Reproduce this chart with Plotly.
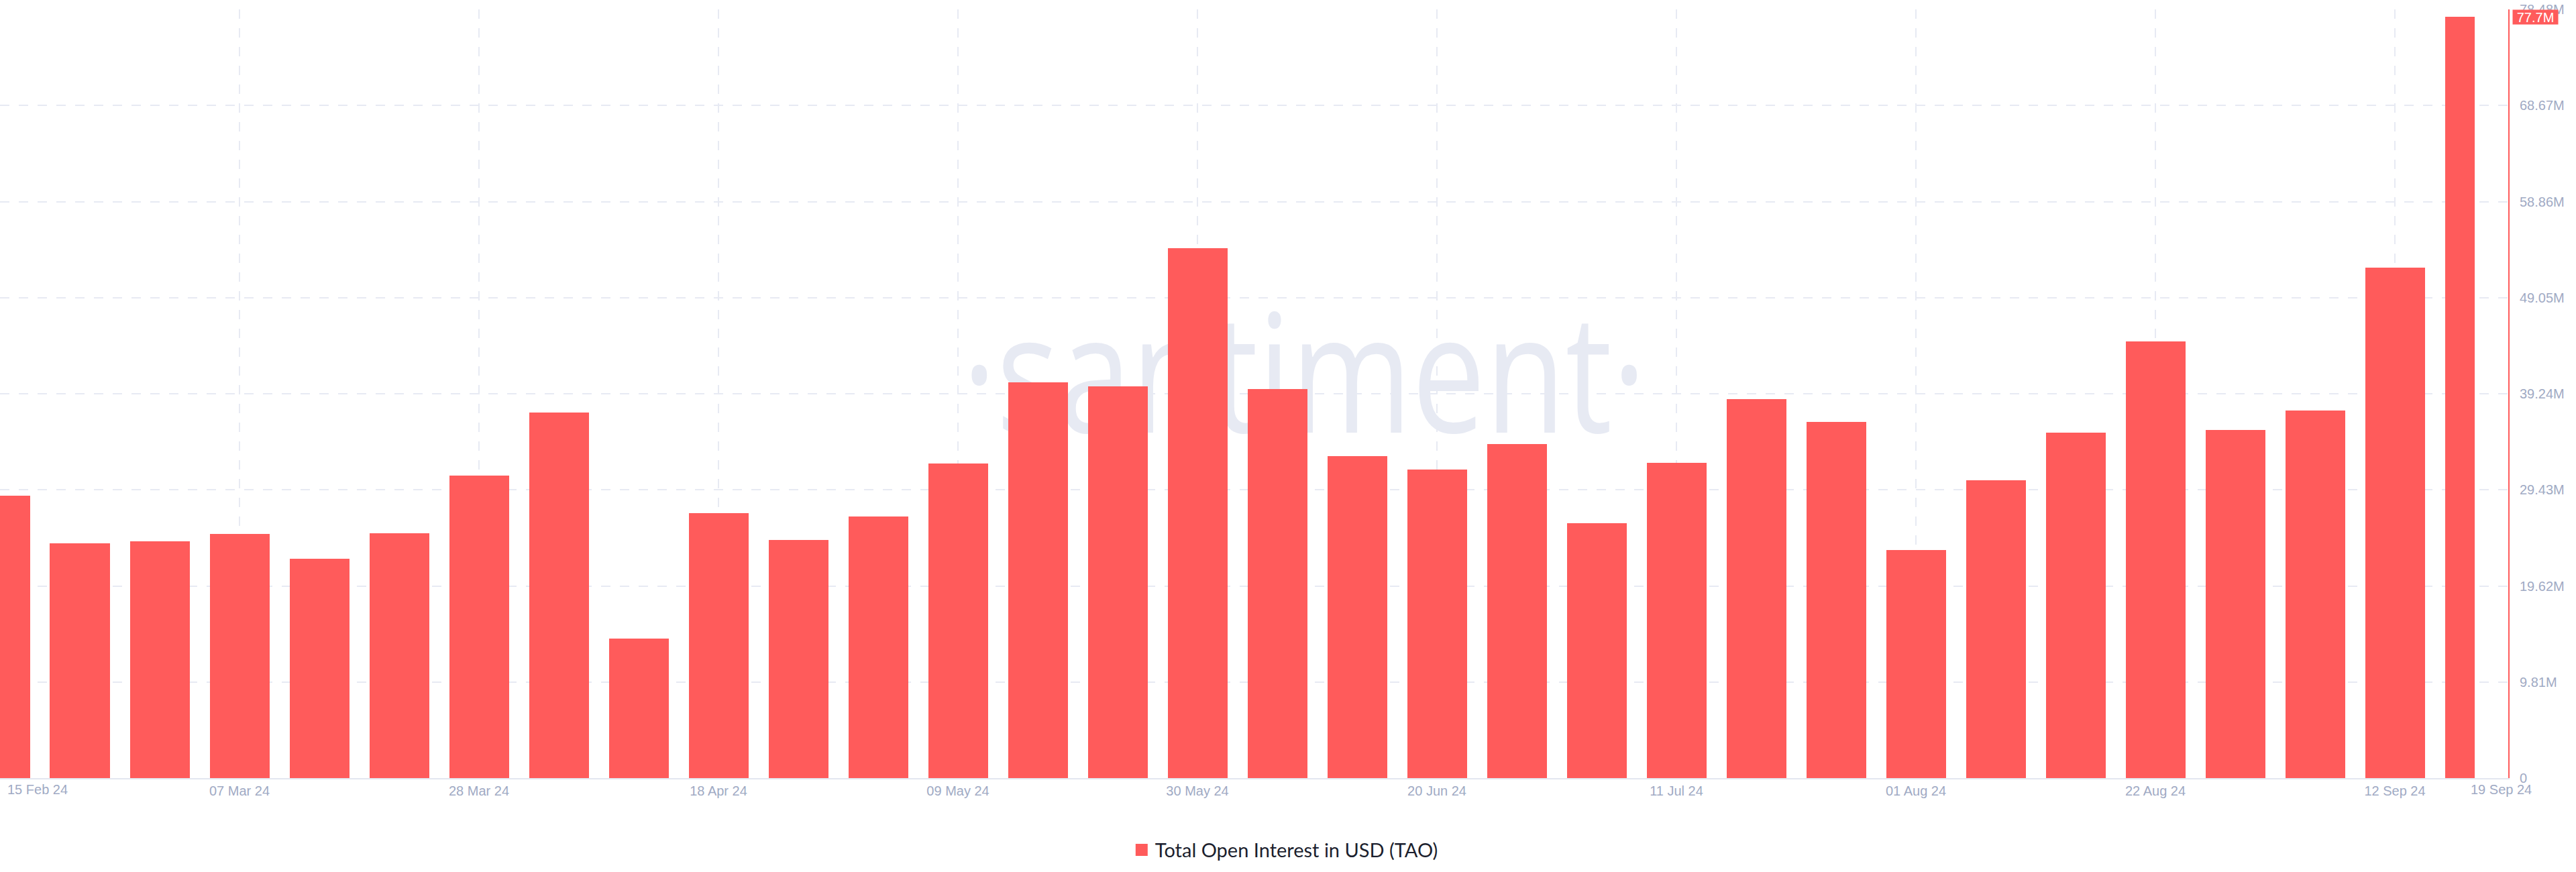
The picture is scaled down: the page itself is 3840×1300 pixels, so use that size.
import plotly.graph_objects as go
from datetime import datetime, timedelta

# ---------------- data ----------------
week_dates = [
    "2024-02-15", "2024-02-22", "2024-02-29", "2024-03-07", "2024-03-14", "2024-03-21",
    "2024-03-28", "2024-04-04", "2024-04-11", "2024-04-18", "2024-04-25", "2024-05-02",
    "2024-05-09", "2024-05-16", "2024-05-23", "2024-05-30", "2024-06-06", "2024-06-13",
    "2024-06-20", "2024-06-27", "2024-07-04", "2024-07-11", "2024-07-18", "2024-07-25",
    "2024-08-01", "2024-08-08", "2024-08-15", "2024-08-22", "2024-08-29", "2024-09-05",
    "2024-09-12", "2024-09-19",
]
open_interest_musd = [
    28.84, 24.00, 24.18, 24.92, 22.41, 24.98, 30.86, 37.35, 14.22, 27.06, 24.30, 26.72,
    32.15, 40.38, 39.98, 54.10, 39.71, 32.85, 31.50, 34.07, 26.05, 32.21, 38.70, 36.34,
    23.29, 30.43, 35.30, 44.58, 35.54, 37.50, 52.11, 77.70,
]
x_tick_dates = ["2024-02-15", "2024-03-07", "2024-03-28", "2024-04-18", "2024-05-09",
                "2024-05-30", "2024-06-20", "2024-07-11", "2024-08-01", "2024-08-22",
                "2024-09-12"]
x_tick_labels = ["", "07 Mar 24", "28 Mar 24", "18 Apr 24", "09 May 24", "30 May 24",
                 "20 Jun 24", "11 Jul 24", "01 Aug 24", "22 Aug 24", "12 Sep 24"]
first_label = "15 Feb 24"
last_label = "19 Sep 24"
y_tick_vals = [0, 9.81, 19.62, 29.43, 39.24, 49.05, 58.86, 68.67, 78.48]
y_tick_labels = ["0", "9.81M", "19.62M", "29.43M", "39.24M", "49.05M", "58.86M",
                 "68.67M", "78.48M"]
series_name = "Total Open Interest in USD (TAO)"

# ---------------- style ----------------
RED = "#ff5b5b"
GRID = "#e7eaf3"
TICK = "#9faac4"
FONT = "Liberation Sans, Arial, Helvetica, sans-serif"

DAY_MS = 86400000
bar_w = 0.748 * 7 * DAY_MS
n = len(week_dates)
# last (current, partial) week is cut at the latest timestamp
widths = [bar_w] * (n - 1) + [bar_w / 2]
offsets = [-bar_w / 2] * n

d0 = datetime.fromisoformat(week_dates[0])
d1 = datetime.fromisoformat(week_dates[-1])
x_range = [d0.isoformat(), (d1 + timedelta(days=2.94)).isoformat()]

fig = go.Figure()
fig.add_trace(go.Bar(
    x=week_dates, y=open_interest_musd, name=series_name,
    marker=dict(color=RED, line=dict(width=0)),
    width=widths, offset=offsets, showlegend=False, legendgroup="oi",
))
# legend entry (larger square swatch like the original)
fig.add_trace(go.Scatter(
    x=[None], y=[None], mode="markers", name=series_name, legendgroup="oi",
    marker=dict(symbol="square", size=16, color=RED, line=dict(color=RED, width=2)),
    showlegend=True, hoverinfo="skip",
))

fig.update_layout(
    template="none",
    width=3840, height=1300,
    margin=dict(l=0, r=101, t=14, b=140, autoexpand=False),
    paper_bgcolor="white", plot_bgcolor="rgba(0,0,0,0)",
    font=dict(family=FONT, size=20, color=TICK),
    bargap=0,
    showlegend=True,
    hovermode=False,
    legend=dict(orientation="h", x=0.4498, xanchor="left", y=-0.0934, yanchor="middle",
                font=dict(family="Lato, Noto Sans, sans-serif", size=29, color="#1c1f2e"),
                itemclick=False, bgcolor="rgba(0,0,0,0)"),
    xaxis=dict(
        type="date", range=x_range, automargin=False,
        tickvals=x_tick_dates, ticktext=x_tick_labels,
        showgrid=True, gridcolor=GRID, gridwidth=2, griddash="14px,14px",
        showline=True, linecolor="#e3e7f0", linewidth=2,
        ticks="", tickfont=dict(family=FONT, size=20, color=TICK),
        zeroline=False, fixedrange=True,
    ),
    yaxis=dict(
        side="right", range=[0, 78.48], automargin=False,
        tickvals=y_tick_vals, ticktext=y_tick_labels,
        showgrid=True, gridcolor=GRID, gridwidth=2, griddash="14px,14px",
        showline=True, linecolor=RED, linewidth=2,
        ticks="", ticklabelstandoff=11,
        tickfont=dict(family=FONT, size=20, color=TICK),
        zeroline=False, fixedrange=True,
    ),
)

# edge date labels
fig.add_annotation(text=first_label, xref="x", x=week_dates[0], xanchor="left", xshift=9,
                   yref="paper", y=0, yanchor="top", yshift=-4, showarrow=False,
                   font=dict(family=FONT, size=20, color=TICK))
fig.add_annotation(text=last_label, xref="paper", x=1, xanchor="right", xshift=37,
                   yref="paper", y=0, yanchor="top", yshift=-4, showarrow=False,
                   font=dict(family=FONT, size=20, color=TICK))

# last value marker
fig.add_annotation(text=f"{open_interest_musd[-1]:.1f}M", xref="paper", x=1, xanchor="left",
                   xshift=6, yref="y", y=open_interest_musd[-1], yanchor="middle",
                   showarrow=False, bgcolor=RED, borderpad=0, width=67, height=21,
                   font=dict(family=FONT, size=20, color="white"))

# watermark
fig.add_shape(type="rect", xref="paper", yref="paper", x0=0.47, x1=0.57, y0=0.47, y1=0.565,
              line=dict(width=0), fillcolor="rgba(0,0,0,0)", layer="below",
              label=dict(text="·santiment·", textposition="middle center",
                         font=dict(family="Open Sans, Noto Sans, sans-serif", size=245,
                                   color="#e7eaf3")))

post = """
document.body.style.margin = '0';
document.body.style.padding = '0';
var gd = document.getElementById('{plot_id}');
function squeeze(){
  gd.querySelectorAll('text').forEach(function(t){
    if (t.textContent.indexOf('santiment') >= 0) {
      t.style.transformBox = 'fill-box';
      t.style.transformOrigin = 'center';
      t.style.transform = 'scaleX(0.795)';
    }
  });
}
squeeze();
if (gd.on) { gd.on('plotly_afterplot', squeeze); }
"""

fig.write_html("out.html", post_script=post,
               config={"displayModeBar": False, "staticPlot": False})
